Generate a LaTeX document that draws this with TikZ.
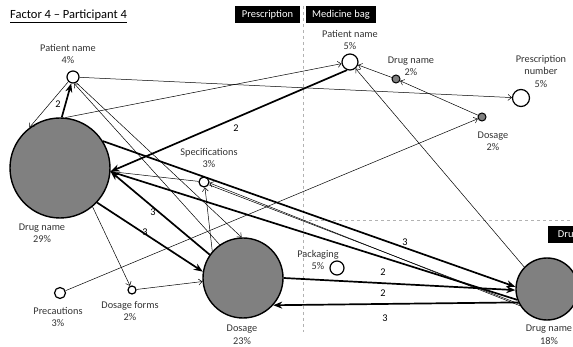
\documentclass[tikz,border=0pt]{standalone}
\usepackage{fontspec}
\setmainfont{Carlito}
\usetikzlibrary{arrows.meta}
\begin{document}
\begin{tikzpicture}[x=1pt,y=-1pt,
  lbl/.style={font=\fontsize{10.3}{12.5}\selectfont, align=center, inner sep=0pt, text=black!80},
  wt/.style={font=\fontsize{10.3}{12}\selectfont, inner sep=0pt},
  bigc/.style={circle, draw, line width=1.4pt, fill=black!50, inner sep=0pt, minimum size=#1},
  openc/.style={circle, draw, line width=1.2pt, fill=white, inner sep=0pt, minimum size=#1},
  greyc/.style={circle, draw, line width=1pt, fill=black!50, inner sep=0pt, minimum size=#1},
  thickarr/.style={line width=1.7pt, -{Stealth[length=9pt,width=7pt]}},
  thickln/.style={line width=1.7pt},
  thinarr/.style={line width=0.5pt, -{Straight Barb[length=3.5pt,width=6pt]}},
  thinln/.style={line width=0.5pt},
  blackbox/.style={fill=black, text=white, font=\fontsize{10.5}{12}\selectfont, inner sep=0pt, minimum height=17pt},
  divider/.style={dashed, draw=black!30, line width=0.8pt}
]
\useasboundingbox (0,0) rectangle (573,347);
\clip (0,0) rectangle (573,347);

% title and section headers
\node[anchor=west, inner sep=0pt, font=\fontsize{12.5}{14}\selectfont] (title) at (10,16) {\underline{Factor 4 -- Participant 4}};
\node[blackbox, minimum width=65pt] (presc) at (267.5,14.5) {Prescription};
\node[blackbox, minimum width=70pt] (bag) at (341,14.5) {Medicine bag};
\node[blackbox, minimum width=40pt, anchor=west] (drugbox) at (548,235) {Drug};

% dividers
\draw[divider] (303,6) -- (303,332);
\draw[divider] (303,220) -- (573,220);

% nodes
\node[bigc=100pt] (D) at (60,168) {};
\node[bigc=80pt] (Dg) at (243,278) {};
\node[bigc=62pt] (BD) at (547,289) {};
\node[openc=12pt] (P) at (73,77) {};
\node[openc=10pt] (S) at (204,182) {};
\node[openc=11pt] (Pr) at (60,293) {};
\node[openc=8pt] (DF) at (132,290) {};
\node[openc=14pt] (Pk) at (337,268) {};
\node[openc=16pt] (MP) at (350,62) {};
\node[greyc=8pt] (MD) at (396,79) {};
\node[openc=17pt] (PN) at (521,98) {};
\node[greyc=8pt] (MDo) at (482,117) {};

% labels
\node[lbl] (lP) at (68,54) {Patient name\\4\%};
\node[lbl] (lD) at (42,233) {Drug name\\29\%};
\node[lbl] (lS) at (209,158) {Specifications\\3\%};
\node[lbl] (lDg) at (242,334.5) {Dosage\\23\%};
\node[lbl] (lPr) at (58,317) {Precautions\\3\%};
\node[lbl] (lDF) at (130,311) {Dosage forms\\2\%};
\node[lbl] (lPk) at (318,260) {Packaging\\5\%};
\node[lbl] (lMP) at (350,40) {Patient name\\5\%};
\node[lbl] (lMD) at (411,66) {Drug name\\2\%};
\node[lbl] (lPN) at (541,71) {Prescription\\number\\5\%};
\node[lbl] (lMDo) at (493,141) {Dosage\\2\%};
\node[lbl] (lBD) at (549,334.5) {Drug name\\18\%};

% thin connectors
\draw[thinarr] (P) -- (PN);
\draw[thinarr] (D.84) -- (MP);
\draw[thinarr] (P.225) -- (D.127);
\draw[thinarr] (P.-60) -- (Dg.92);
\draw[thinarr] (Dg.125) -- (P.-80);
\draw[thinarr] (S) -- (D.-4);
\draw[thinarr] (Dg.139) -- (S.-80);
\draw[thinarr] (BD.212) -- (S.-10);
\draw[thinln] (S.-30) -- (BD.208);
\draw[thinarr] (D.-50) -- (DF);
\draw[thinarr] (DF) -- (Dg.185);
\draw[thinarr] (Pr) -- (MDo);
\draw[thinarr] (BD.136) -- (MP);
\draw[thinarr] (MDo) -- (MD);
\draw[thinarr] (MD) -- (MP);

% thick connectors
\draw[thickarr] (D.88) -- (P);
\draw[thickarr] (MP.-110) -- (D.-4);
\draw[thickarr] (D.32) -- (BD.176);
\draw[thickarr] (Dg.145) -- (D.-4);
\draw[thickarr] (D.-43) -- (Dg.171);
\draw[thickarr] (Dg.0) -- (BD.182);
\draw[thickarr] (BD.205) -- (Dg.-42);
\draw[thickln] (BD.200) -- (D.-4);

% weights
\node[wt] (w1) at (58,104) {2};
\node[wt] (w2) at (236,128) {2};
\node[wt] (w3) at (405,242) {3};
\node[wt] (w4) at (153,212) {3};
\node[wt] (w5) at (145,232) {3};
\node[wt] (w6) at (383,272) {2};
\node[wt] (w7) at (383,293) {2};
\node[wt] (w8) at (385,318) {3};
\end{tikzpicture}
\end{document}
